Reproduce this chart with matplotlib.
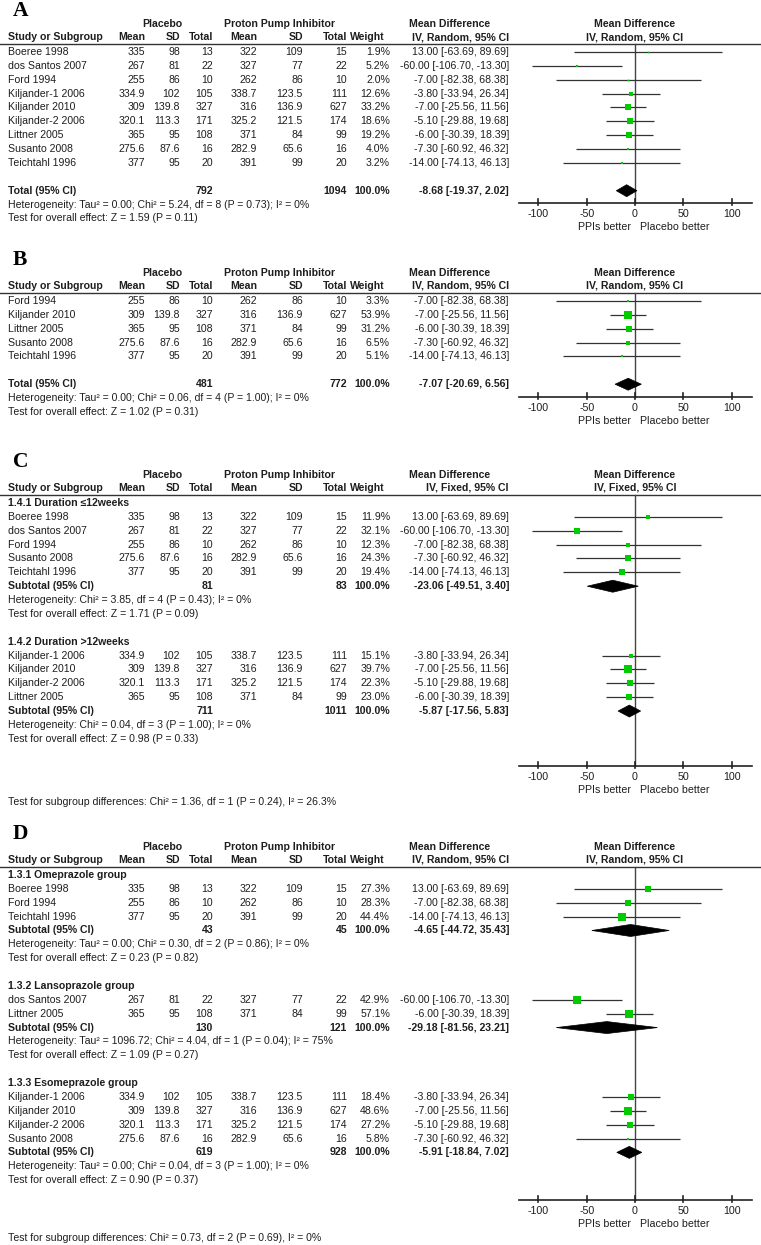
import matplotlib
matplotlib.use("Agg")
import matplotlib.pyplot as plt
from matplotlib.patches import Polygon

# ---------------- data ----------------
studies = ["Boeree 1998", "dos Santos 2007", "Ford 1994", "Kiljander-1 2006",
           "Kiljander 2010", "Kiljander-2 2006", "Littner 2005", "Susanto 2008",
           "Teichtahl 1996"]
pl_mean = [335, 267, 255, 334.9, 309, 320.1, 365, 275.6, 377]
pl_sd = [98, 81, 86, 102, 139.8, 113.3, 95, 87.6, 95]
pl_n = [13, 22, 10, 105, 327, 171, 108, 16, 20]
ppi_mean = [322, 327, 262, 338.7, 316, 325.2, 371, 282.9, 391]
ppi_sd = [109, 77, 86, 123.5, 136.9, 121.5, 84, 65.6, 99]
ppi_n = [15, 22, 10, 111, 627, 174, 99, 16, 20]
md = [13.00, -60.00, -7.00, -3.80, -7.00, -5.10, -6.00, -7.30, -14.00]
md_lo = [-63.69, -106.70, -82.38, -33.94, -25.56, -29.88, -30.39, -60.92, -74.13]
md_hi = [89.69, -13.30, 68.38, 26.34, 11.56, 19.68, 18.39, 46.32, 46.13]

# panel A
a_idx = [0, 1, 2, 3, 4, 5, 6, 7, 8]
a_w = [1.9, 5.2, 2.0, 12.6, 33.2, 18.6, 19.2, 4.0, 3.2]
a_tot = [792, 1094, -8.68, -19.37, 2.02]
a_het = "Heterogeneity: Tau² = 0.00; Chi² = 5.24, df = 8 (P = 0.73); I² = 0%"
a_test = "Test for overall effect: Z = 1.59 (P = 0.11)"
# panel B
b_idx = [2, 4, 6, 7, 8]
b_w = [3.3, 53.9, 31.2, 6.5, 5.1]
b_tot = [481, 772, -7.07, -20.69, 6.56]
b_het = "Heterogeneity: Tau² = 0.00; Chi² = 0.06, df = 4 (P = 1.00); I² = 0%"
b_test = "Test for overall effect: Z = 1.02 (P = 0.31)"
# panel C
c1_head = "1.4.1 Duration \u226412weeks"
c1_idx = [0, 1, 2, 7, 8]
c1_w = [11.9, 32.1, 12.3, 24.3, 19.4]
c1_tot = [81, 83, -23.06, -49.51, 3.40]
c1_het = "Heterogeneity: Chi² = 3.85, df = 4 (P = 0.43); I² = 0%"
c1_test = "Test for overall effect: Z = 1.71 (P = 0.09)"
c2_head = "1.4.2 Duration >12weeks"
c2_idx = [3, 4, 5, 6]
c2_w = [15.1, 39.7, 22.3, 23.0]
c2_tot = [711, 1011, -5.87, -17.56, 5.83]
c2_het = "Heterogeneity: Chi² = 0.04, df = 3 (P = 1.00); I² = 0%"
c2_test = "Test for overall effect: Z = 0.98 (P = 0.33)"
c_sub = "Test for subgroup differences: Chi² = 1.36, df = 1 (P = 0.24), I² = 26.3%"
# panel D
d1_head = "1.3.1 Omeprazole group"
d1_idx = [0, 2, 8]
d1_w = [27.3, 28.3, 44.4]
d1_tot = [43, 45, -4.65, -44.72, 35.43]
d1_het = "Heterogeneity: Tau² = 0.00; Chi² = 0.30, df = 2 (P = 0.86); I² = 0%"
d1_test = "Test for overall effect: Z = 0.23 (P = 0.82)"
d2_head = "1.3.2 Lansoprazole group"
d2_idx = [1, 6]
d2_w = [42.9, 57.1]
d2_tot = [130, 121, -29.18, -81.56, 23.21]
d2_het = "Heterogeneity: Tau² = 1096.72; Chi² = 4.04, df = 1 (P = 0.04); I² = 75%"
d2_test = "Test for overall effect: Z = 1.09 (P = 0.27)"
d3_head = "1.3.3 Esomeprazole group"
d3_idx = [3, 4, 5, 7]
d3_w = [18.4, 48.6, 27.2, 5.8]
d3_tot = [619, 928, -5.91, -18.84, 7.02]
d3_het = "Heterogeneity: Tau² = 0.00; Chi² = 0.04, df = 3 (P = 1.00); I² = 0%"
d3_test = "Test for overall effect: Z = 0.90 (P = 0.37)"
d_sub = "Test for subgroup differences: Chi² = 0.73, df = 2 (P = 0.69), I² = 0%"

xticks = [-100, -50, 0, 50, 100]

# ---------------- layout ----------------
W, H = 761, 1245
FS = 7.55
TFS = 7.7
TXT = "#1e1e1e"
GREEN = "#00cc00"
plt.rcParams["font.family"] = ["Liberation Sans", "DejaVu Sans"]

fig = plt.figure(figsize=(W / 100, H / 100), dpi=100)
ax = fig.add_axes([0, 0, 1, 1])
ax.set_xlim(0, W)
ax.set_ylim(H, 0)
ax.axis("off")

FX0, FX1 = 519, 752
fax = fig.add_axes([FX0 / W, 0, (FX1 - FX0) / W, 1])
XL = (-120.2, 121.2)
fax.set_xlim(*XL)
fax.set_ylim(H, 0)
fax.axis("off")

COL = dict(pm=145, psd=180, pn=213, qm=257, qsd=303, qn=347, w=390, ci=509)
STEP = 13.87


def t(x, y, s, ha="left", bold=False, size=FS, **kw):
    ax.text(x, y, s, ha=ha, va="center", fontsize=size, color=TXT,
            fontweight="bold" if bold else "normal", **kw)


def ci_text(e, lo, hi):
    return f"{e:.2f} [{lo:.2f}, {hi:.2f}]"


def header(label, line_y, method):
    ax.text(13, line_y - 33, label, fontsize=15.5, fontweight="bold",
            family="Liberation Serif", va="center", ha="left", color="black")
    y1 = line_y - 20
    y2 = line_y - 7
    t(162, y1, "Placebo", ha="center", bold=True)
    t(280, y1, "Proton Pump Inhibitor", ha="center", bold=True)
    t(450, y1, "Mean Difference", ha="center", bold=True)
    t(635, y1, "Mean Difference", ha="center", bold=True)
    t(8, y2, "Study or Subgroup", bold=True)
    t(COL["pm"], y2, "Mean", ha="right", bold=True)
    t(COL["psd"], y2, "SD", ha="right", bold=True)
    t(COL["pn"], y2, "Total", ha="right", bold=True)
    t(COL["qm"], y2, "Mean", ha="right", bold=True)
    t(COL["qsd"], y2, "SD", ha="right", bold=True)
    t(COL["qn"], y2, "Total", ha="right", bold=True)
    t(350, y2, "Weight", bold=True)
    t(COL["ci"], y2, f"IV, {method}, 95% CI", ha="right", bold=True)
    t(635, y2, f"IV, {method}, 95% CI", ha="center", bold=True)
    ax.plot([0, W], [line_y, line_y], color="#333333", lw=1.0)


def study_row(y, i, w):
    t(8, y, studies[i])
    t(COL["pm"], y, f"{pl_mean[i]:g}", ha="right")
    t(COL["psd"], y, f"{pl_sd[i]:g}", ha="right")
    t(COL["pn"], y, f"{pl_n[i]:g}", ha="right")
    t(COL["qm"], y, f"{ppi_mean[i]:g}", ha="right")
    t(COL["qsd"], y, f"{ppi_sd[i]:g}", ha="right")
    t(COL["qn"], y, f"{ppi_n[i]:g}", ha="right")
    t(COL["w"], y, f"{w:.1f}%", ha="right")
    t(COL["ci"], y, ci_text(md[i], md_lo[i], md_hi[i]), ha="right")
    fax.plot([md_lo[i], md_hi[i]], [y, y], color="#333333", lw=0.9,
             solid_capstyle="butt", zorder=2)
    side_px = 1.18 * w ** 0.5
    fax.plot([md[i]], [y], marker="s", ms=side_px * 72 / 100, mew=0,
             color=GREEN, zorder=3)


def total_row(y, label, tot):
    n1, n2, e, lo, hi = tot
    t(8, y, label, bold=True)
    t(COL["pn"], y, f"{n1}", ha="right", bold=True)
    t(COL["qn"], y, f"{n2}", ha="right", bold=True)
    t(COL["w"], y, "100.0%", ha="right", bold=True)
    t(COL["ci"], y, ci_text(e, lo, hi), ha="right", bold=True)
    h = 6
    fax.add_patch(Polygon([[lo, y], [e, y - h], [hi, y], [e, y + h]],
                          closed=True, facecolor="black", edgecolor="black",
                          lw=0.5, zorder=3))


def axis_block(line_y, axis_y):
    fax.plot([0, 0], [line_y, axis_y], color="#444444", lw=1.0, zorder=1)
    fax.plot(list(XL), [axis_y, axis_y], color="#222222", lw=1.2, clip_on=False)
    for v in xticks:
        fax.plot([v, v], [axis_y - 4, axis_y + 1.5], color="#222222", lw=1.2)
        fax.text(v, axis_y + 11, f"{v}", ha="center", va="center",
                 fontsize=TFS, color=TXT)
    fax.text(-4.5, axis_y + 24, "PPIs better", ha="right", va="center",
             fontsize=TFS, color=TXT)
    fax.text(5.5, axis_y + 24, "Placebo better", ha="left", va="center",
             fontsize=TFS, color=TXT)


def panel(label, line_y, method, groups, axis_y, total_gap, sub_text=None,
          sub_y=None):
    header(label, line_y, method)
    r0 = line_y + 8
    k = 0
    for g in groups:
        head, idx, ws, tot, het, test = g
        if head is not None:
            t(8, r0 + k * STEP, head, bold=True)
            k += 1
        for i, w in zip(idx, ws):
            study_row(r0 + k * STEP, i, w)
            k += 1
        k += total_gap
        total_row(r0 + k * STEP, "Total (95% CI)" if head is None else
                  "Subtotal (95% CI)", tot)
        k += 1
        t(8, r0 + k * STEP, het)
        k += 1
        t(8, r0 + k * STEP, test)
        k += 2
    axis_block(line_y, axis_y)
    if sub_text:
        t(8, sub_y, sub_text)


panel("A", 44, "Random", [(None, a_idx, a_w, a_tot, a_het, a_test)], 203, 1)
panel("B", 293, "Random", [(None, b_idx, b_w, b_tot, b_het, b_test)], 397, 1)
panel("C", 495, "Fixed",
      [(c1_head, c1_idx, c1_w, c1_tot, c1_het, c1_test),
       (c2_head, c2_idx, c2_w, c2_tot, c2_het, c2_test)], 766, 0,
      c_sub, 802)
panel("D", 867, "Random",
      [(d1_head, d1_idx, d1_w, d1_tot, d1_het, d1_test),
       (d2_head, d2_idx, d2_w, d2_tot, d2_het, d2_test),
       (d3_head, d3_idx, d3_w, d3_tot, d3_het, d3_test)], 1200, 0,
      d_sub, 1238)

fig.savefig("out.png", dpi=100, facecolor="white")
